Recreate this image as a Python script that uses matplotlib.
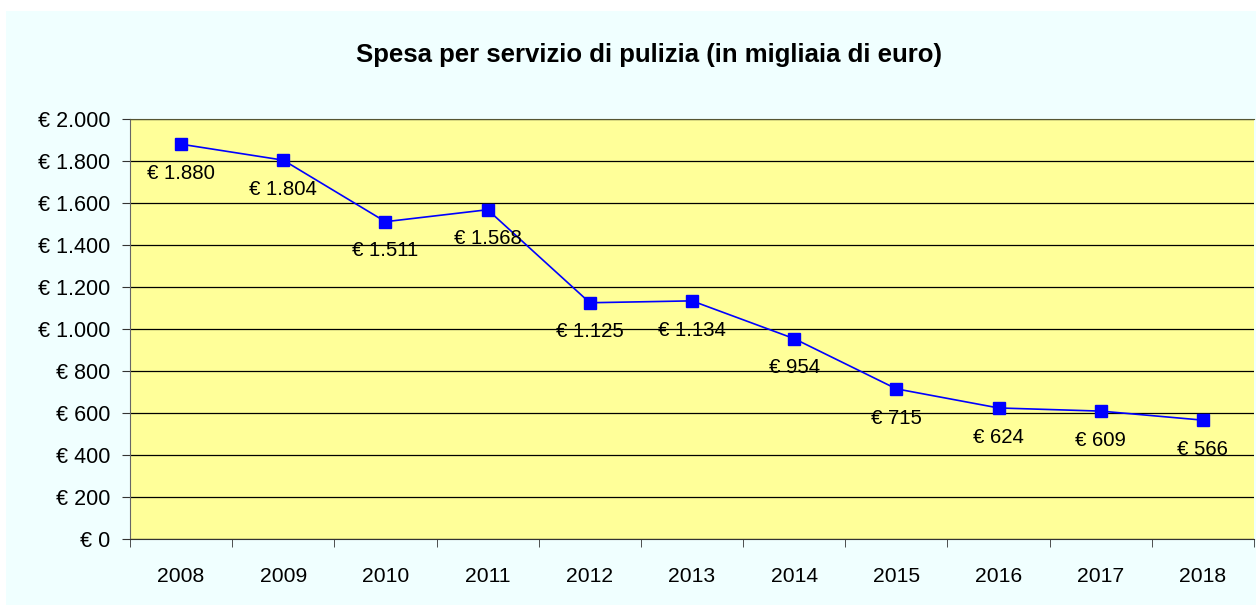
import matplotlib.pyplot as plt
from matplotlib.patches import Rectangle

plt.rcParams['font.family'] = ['Liberation Sans', 'DejaVu Sans']

years = ['2008', '2009', '2010', '2011', '2012', '2013',
         '2014', '2015', '2016', '2017', '2018']
spesa = [1880, 1804, 1511, 1568, 1125, 1134, 954, 715, 624, 609, 566]
y_ticks = [0, 200, 400, 600, 800, 1000, 1200, 1400, 1600, 1800, 2000]


def euro(v):
    # formato italiano: punto come separatore delle migliaia
    return '€ ' + f'{v:,}'.replace(',', '.')


W, H = 1256, 605
fig = plt.figure(figsize=(W / 100, H / 100), dpi=100)
fig.patch.set_facecolor('white')
fig.patches.append(Rectangle((6 / W, 0), 1 - 6 / W, 1 - 11 / H,
                             transform=fig.transFigure,
                             facecolor='#F0FFFF', edgecolor='none', zorder=-5))

ax = fig.add_axes([130 / W, 1 - 539 / H, 1124 / W, (539 - 119) / H])
ax.set_zorder(2)
ax.set_facecolor('#FFFF99')

x = list(range(len(years)))
ax.plot(x, spesa, color='#0000FF', lw=1.2, marker='s', ms=8.5,
        markerfacecolor='#0000FF', markeredgecolor='#0000FF', zorder=3)

for xi, v in zip(x, spesa):
    ax.annotate(euro(v), (xi, v), xytext=(0, -21), textcoords='offset points',
                ha='center', va='center', fontsize=14.7, color='black')

ax.set_xlim(-0.5, len(years) - 0.5)
ax.set_ylim(0, 2000)
ax.set_yticks(y_ticks)
ax.set_yticklabels([euro(v) for v in y_ticks], fontsize=15.5)
ax.set_xticks(x)
ax.set_xticklabels(years, fontsize=15.2)
ax.tick_params(axis='x', length=0, pad=20)
ax.set_xticks([i - 0.5 for i in range(len(years) + 1)], minor=True)
ax.tick_params(axis='x', which='minor', length=6, color='#333333', direction='out')
ax.tick_params(axis='y', length=6, color='#333333', direction='out', pad=8)

ax.yaxis.grid(True, color='black', lw=0.9)
ax.set_axisbelow(True)
ax.spines['right'].set_visible(False)
ax.spines['top'].set_color('#555533')
ax.spines['left'].set_color('#666666')
ax.spines['bottom'].set_color('#333333')

fig.text(649 / W, 1 - 55 / H, 'Spesa per servizio di pulizia (in migliaia di euro)',
         ha='center', va='center', fontsize=18.5, fontweight='bold')

fig.savefig('out.png', dpi=100, facecolor=fig.get_facecolor())
